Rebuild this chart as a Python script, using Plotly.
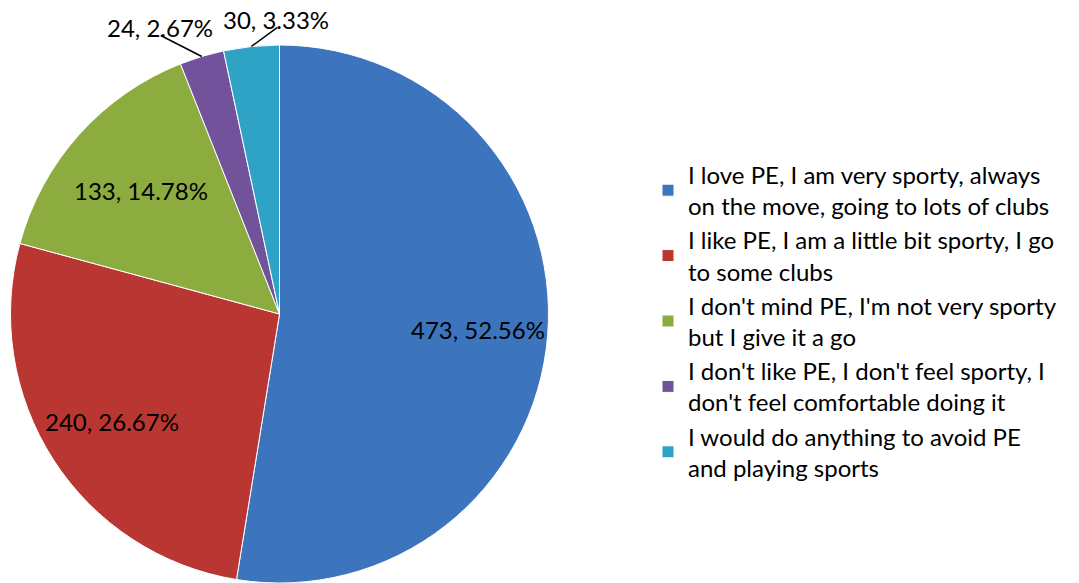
import math
import plotly.graph_objects as go

labels = [
    "I love PE, I am very sporty, always<br>on the move, going to lots of clubs",
    "I like PE, I am a little bit sporty, I go<br>to some clubs",
    "I don't mind PE, I'm not very sporty<br>but I give it a go",
    "I don't like PE, I don't feel sporty, I<br>don't feel comfortable doing it",
    "I would do anything to avoid PE<br>and playing sports",
]
values = [473, 240, 133, 24, 30]
percents = ["52.56%", "26.67%", "14.78%", "2.67%", "3.33%"]
colors = ["#3D74BE", "#B93633", "#8DAC3F", "#71529B", "#2EA3C6"]

W, H = 1079, 583
FONT = "Lato"
FS = 24
# pie geometry in pixels
cx, cy, R = 279.5, 314.0, 269.0

fig = go.Figure()
fig.add_trace(go.Pie(
    labels=labels,
    values=values,
    sort=False,
    direction="clockwise",
    rotation=0,
    textinfo="none",
    hoverinfo="label+value+percent",
    marker=dict(colors=colors, line=dict(color="#FFFFFF", width=1)),
    domain=dict(x=[(cx - R) / W, (cx + R) / W], y=[(H - cy - R) / H, (H - cy + R) / H]),
    showlegend=True,
))

total = sum(values)
cum = 0.0
annotations = []
shapes = []
inside_r = [0.74, 0.74, 0.69]
outside_offsets = {3: (-42, -29), 4: (25, -27)}
for i, v in enumerate(values):
    frac = v / total
    mid = cum + frac / 2
    cum += frac
    ang = 2 * math.pi * mid
    txt = f"{v}, {percents[i]}"
    if i < 3:
        r = inside_r[i] * R
        px = cx + r * math.sin(ang)
        py = cy - r * math.cos(ang)
        annotations.append(dict(
            x=px / W, y=1 - py / H, xref="paper", yref="paper",
            text=txt, showarrow=False,
            font=dict(family=FONT, size=FS, color="#000000"),
            xanchor="center", yanchor="middle",
        ))
    else:
        px = cx + R * math.sin(ang)
        py = cy - R * math.cos(ang)
        ox, oy = outside_offsets[i]
        tx, ty = px + ox, py + oy
        annotations.append(dict(
            x=tx / W, y=1 - ty / H, xref="paper", yref="paper",
            text=txt, showarrow=False,
            font=dict(family=FONT, size=FS, color="#000000"),
            xanchor="center", yanchor="middle",
        ))
        shapes.append(dict(
            type="line", xref="paper", yref="paper",
            x0=px / W, y0=1 - py / H,
            x1=(tx + 1) / W, y1=1 - (ty + 8) / H,
            line=dict(color="#000000", width=1.5),
        ))

fig.update_layout(
    width=W, height=H,
    margin=dict(l=0, r=0, t=0, b=0),
    paper_bgcolor="#FFFFFF",
    plot_bgcolor="#FFFFFF",
    font=dict(family=FONT, size=FS, color="#000000"),
    annotations=annotations,
    shapes=shapes,
    legend=dict(
        x=648 / W, y=1 - 321 / H, xanchor="left", yanchor="middle",
        font=dict(family=FONT, size=FS, color="#000000"),
        bgcolor="rgba(0,0,0,0)",
        traceorder="normal",
    ),
)

fig.write_html(
    "out.html",
    config={"displayModeBar": False},
    post_script="document.body.style.margin='0px';",
)
